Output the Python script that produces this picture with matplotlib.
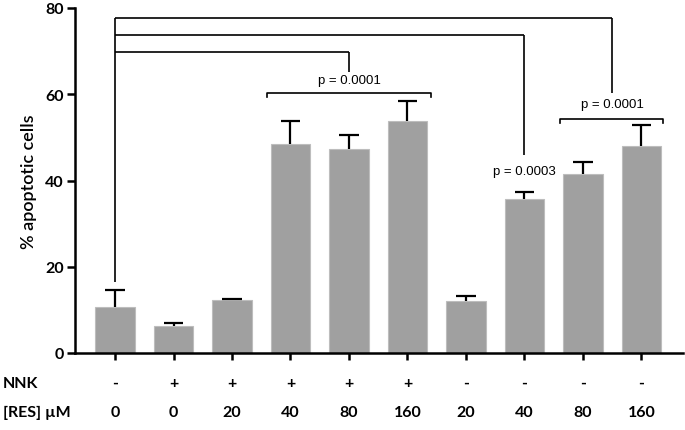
import matplotlib.pyplot as plt
import numpy as np

# data
nnk = ["-", "+", "+", "+", "+", "+", "-", "-", "-", "-"]
res_um = ["0", "0", "20", "40", "80", "160", "20", "40", "80", "160"]
apoptotic = [10.6, 6.2, 12.2, 48.4, 47.4, 53.7, 12.1, 35.7, 41.5, 48.0]
err_up = [4.0, 0.7, 0.3, 5.5, 3.1, 4.7, 1.1, 1.6, 2.7, 4.8]

plt.rcParams["font.family"] = ["Lato", "DejaVu Sans"]

fig = plt.figure(figsize=(6.85, 4.31), dpi=100)
ax = fig.add_axes([75 / 685, 77 / 431, 608 / 685, 345 / 431])

x = np.arange(len(apoptotic))
means = np.array(apoptotic)
tops = means + np.array(err_up)

ax.bar(x, means, width=0.67, color="#a0a0a0", edgecolor="#bdbdbd", linewidth=0.8, zorder=2)
# upper error bars only
ax.vlines(x, means, tops, color="black", lw=1.6, zorder=3)
ax.hlines(tops, x - 0.17, x + 0.17, color="black", lw=1.6, zorder=3)

ax.set_xlim(-0.684, 9.71)
ax.set_ylim(0, 80)
ax.set_yticks([0, 20, 40, 60, 80])
ax.set_xticks(x)
ax.set_xticklabels([])
for lab in ax.get_yticklabels():
    lab.set_fontweight("bold")
ax.tick_params(axis="y", length=6, width=1.8, labelsize=11.5, pad=2)
ax.tick_params(axis="x", length=5, width=1.8)
for side in ["top", "right"]:
    ax.spines[side].set_visible(False)
for side in ["left", "bottom"]:
    ax.spines[side].set_linewidth(1.8)
ax.set_ylabel("% apoptotic cells", fontsize=13, fontweight="semibold", labelpad=6)

# comparison brackets from control
bk = dict(color="black", lw=1.2, clip_on=False, zorder=4)
ax.vlines(0, 16.5, 77.7, **bk)
ax.hlines(77.7, 0, 8.5, **bk)
ax.vlines(8.5, 60.3, 77.7, **bk)
ax.hlines(73.8, 0, 7, **bk)
ax.vlines(7, 45.9, 73.8, **bk)
ax.hlines(69.8, 0, 4, **bk)
ax.vlines(4, 65.2, 69.8, **bk)

# group brackets
ax.plot([2.6, 2.6, 5.4, 5.4], [59.3, 60.3, 60.3, 59.3], **bk)
ax.plot([7.6, 7.6, 9.37, 9.37], [53.3, 54.3, 54.3, 53.3], **bk)

pfont = dict(family="Liberation Sans", fontsize=9.5, ha="center", va="center")
ax.text(4, 63.2, "p = 0.0001", **pfont)
ax.text(8.5, 57.8, "p = 0.0001", **pfont)
ax.text(7, 42.2, "p = 0.0003", **pfont)

# treatment rows under the axis
tr = ax.get_xaxis_transform()
row_nnk = -30 / 345
row_res = -59 / 345
fig.text(3 / 685, 1 - 384 / 431, "NNK", fontsize=11.5, fontweight="bold", va="center")
fig.text(3 / 685, 1 - 413 / 431, "[RES] \u00b5M", fontsize=11.5, fontweight="bold", va="center")
for i in range(len(x)):
    ax.text(x[i], row_nnk, nnk[i], transform=tr, ha="center", va="center",
            fontsize=11.5, fontweight="bold")
    ax.text(x[i], row_res, res_um[i], transform=tr, ha="center", va="center",
            fontsize=11.5, fontweight="bold")

fig.savefig("out.png", dpi=100)
